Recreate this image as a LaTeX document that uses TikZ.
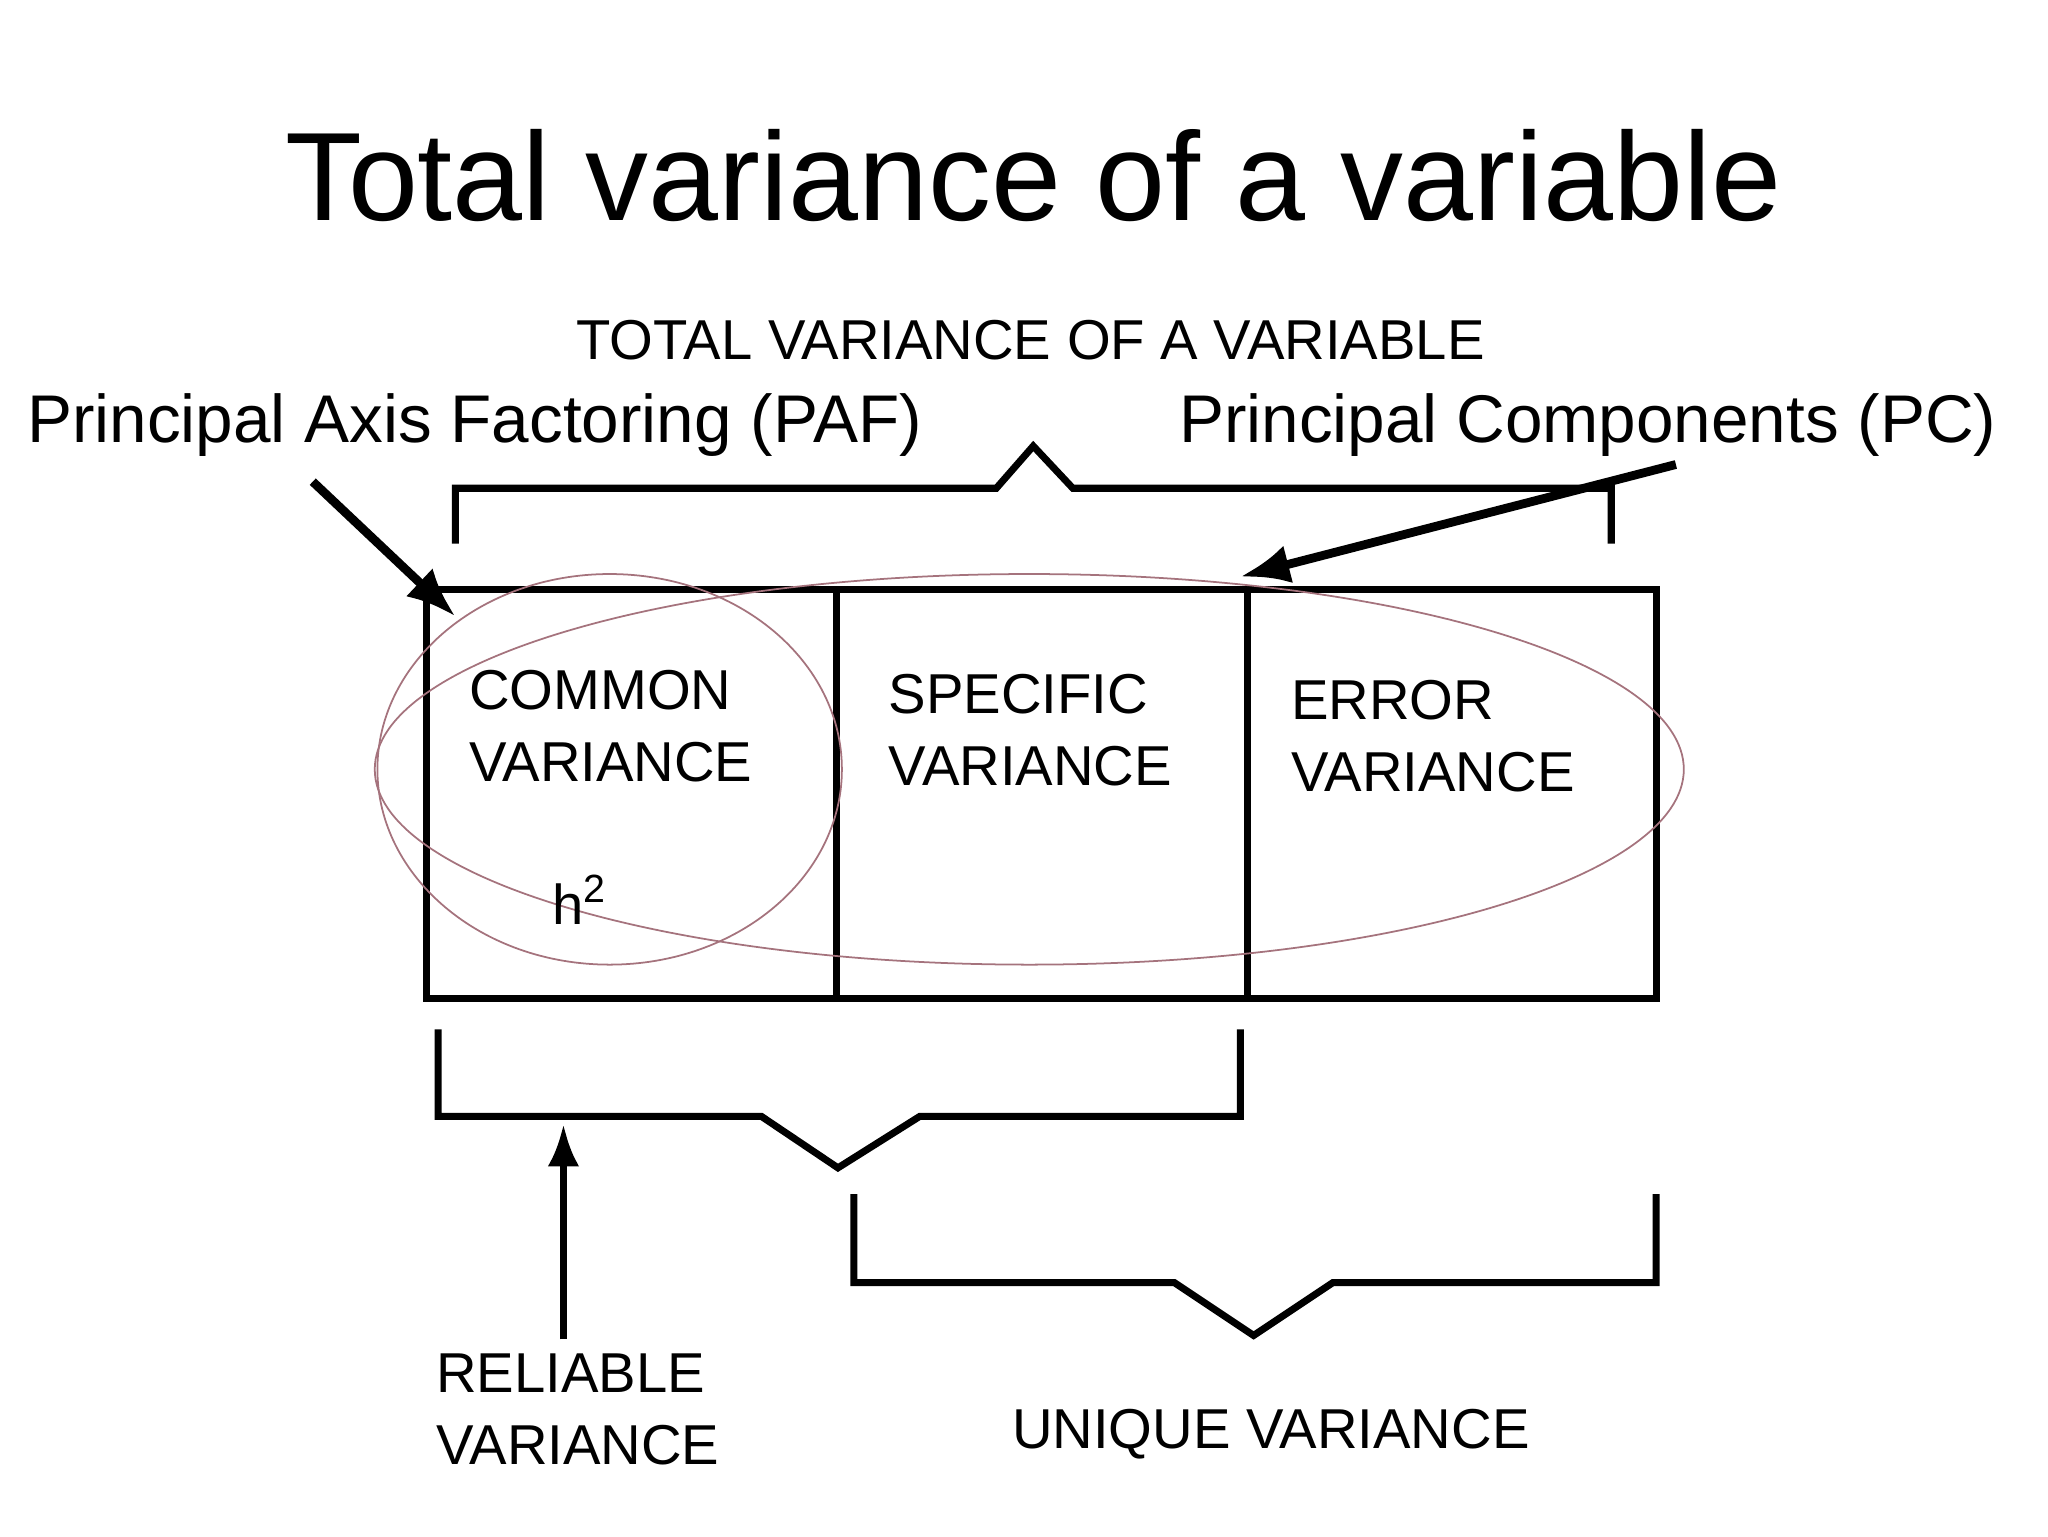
\documentclass[tikz,border=0pt]{standalone}
\usepackage{fontspec}
\setmainfont{Liberation Sans}
\definecolor{ellc}{RGB}{165,115,125}
\tikzset{
  ln/.style={line width=2pt},
  ell/.style={draw=ellc, line width=0.5pt},
  lbl/.style={font=\fontsize{16}{20.5}\selectfont, align=left, anchor=west, inner sep=0pt},
  big/.style={font=\fontsize{19.2}{22}\selectfont, inner sep=0pt},
  arr/.style={line width=2.5pt, -{Latex[length=14pt,width=11pt]}}
}
\usetikzlibrary{arrows.meta}
\begin{document}
\begin{tikzpicture}[x=0.0132cm,y=-0.0132cm]
\useasboundingbox (0,0) rectangle (1552,1164);
\node[inner sep=0pt, font=\fontsize{35.8}{40}\selectfont] (title) at (783,133) {Total variance of a variable};
\node[lbl, anchor=center] (tv) at (781,258) {TOTAL VARIANCE OF A VARIABLE};
\node[big, anchor=west] (paf) at (20,322) {Principal Axis Factoring (PAF)};
\node[big, anchor=west] (pc) at (893,322) {Principal Components (PC)};
% top brace
\draw[ln] (345,412) -- (345,370) -- (755,370) -- (783,338) -- (813,370) -- (1221,370) -- (1221,412);
% box
\draw[ln] (323,447) rectangle (1255,757);
\draw[ln] (634,447) -- (634,757);
\draw[ln] (945,447) -- (945,757);
\coordinate (c1) at (345,467);
\coordinate (c2) at (940,437);
% ellipses
\draw[ell] (462,583) ellipse [x radius=176, y radius=148];
\draw[ell] (780,583) ellipse [x radius=496, y radius=148];
% arrows
\coordinate (pa) at (237,365);
\coordinate (pb) at (1270,352);
\draw[arr] (pa) -- (c1);
\draw[arr] (pb) -- (c2);
% texts
\node[lbl] (cv) at (355,550) {COMMON\\VARIANCE};
\node[lbl] (h2) at (418,682) {h$^{\mathrm{2}}$};
\node[lbl] (sv) at (673,553) {SPECIFIC\\VARIANCE};
\node[lbl] (ev) at (978,558) {ERROR\\VARIANCE};
% bottom braces
\draw[ln] (332,780) -- (332,846) -- (577,846) -- (635,885) -- (697,846) -- (940,846) -- (940,780);
\draw[ln] (647,905) -- (647,972) -- (890,972) -- (950,1012) -- (1010,972) -- (1255,972) -- (1255,905);
\node[lbl] (rv) at (330,1068) {RELIABLE\\VARIANCE};
\node[lbl, anchor=center] (uv) at (963,1087) {UNIQUE VARIANCE};
\coordinate (rt) at (427,852);
\draw[line width=2pt, -{Latex[length=12pt,width=9pt]}] (427,1015) -- (rt);
\end{tikzpicture}
\end{document}
